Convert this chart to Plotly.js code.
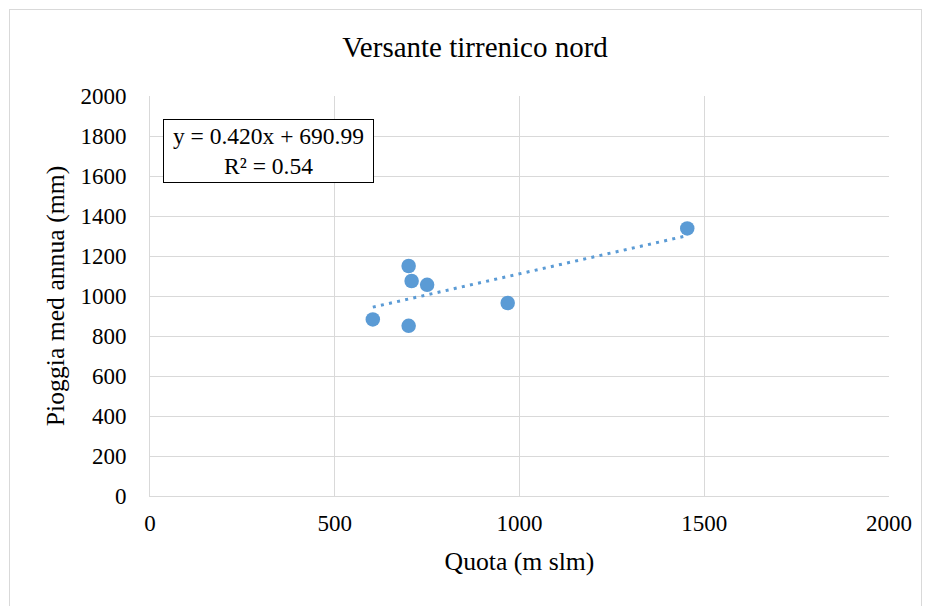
<!DOCTYPE html>
<html>
<head>
<meta charset="utf-8">
<script src="https://cdn.plot.ly/plotly-3.0.1.min.js"></script>
<style>
  html, body { margin: 0; padding: 0; background: #ffffff; }
  #wrap { position: relative; width: 929px; height: 606px; overflow: hidden; }
  #chart { position: absolute; left: 0; top: 0; width: 929px; height: 606px; }
  #chart text { font-family: 'Liberation Serif', 'Times New Roman', serif !important; }
  #frame { position: absolute; left: 9px; top: 9px; width: 911px; height: 620px;
           border: 1px solid #d9d9d9; pointer-events: none; }
</style>
</head>
<body>
<div id="wrap">
  <div id="chart"></div>
  <div id="frame"></div>
</div>
<script>
// Data
var quota = [603, 700, 708, 750, 700, 968, 1454];          // m slm
var pioggia = [883, 1150, 1075, 1056, 851, 965, 1338];     // mm
var trendSlope = 0.420;
var trendIntercept = 690.99;
var rSquared = 0.54;
var xTicks = [0, 500, 1000, 1500, 2000];
var yTicks = [0, 200, 400, 600, 800, 1000, 1200, 1400, 1600, 1800, 2000];

var xMin = Math.min.apply(null, quota);
var xMax = Math.max.apply(null, quota);
var trendX = [xMin, xMax];
var trendY = trendX.map(function (v) { return trendSlope * v + trendIntercept; });

var serif = 'Times New Roman, Liberation Serif, serif';
var blue = '#5B9BD5';

var traces = [
  {
    x: trendX, y: trendY, type: 'scatter', mode: 'lines',
    line: { color: blue, width: 3, dash: '3px,5.3px' },
    hoverinfo: 'skip', showlegend: false
  },
  {
    x: quota, y: pioggia, type: 'scatter', mode: 'markers',
    marker: { color: blue, size: 14.5, line: { width: 0 } },
    showlegend: false
  }
];

var layout = {
  width: 929, height: 606,
  margin: { l: 150, r: 40, t: 96, b: 110, pad: 0 },
  paper_bgcolor: '#ffffff', plot_bgcolor: '#ffffff',
  font: { family: serif, color: '#000000' },
  title: {
    text: 'Versante tirrenico nord',
    font: { family: serif, size: 29, color: '#000000' },
    xref: 'container', x: 475 / 929, xanchor: 'center',
    yref: 'container', y: 1 - 47 / 606, yanchor: 'middle'
  },
  xaxis: {
    range: [0, 2000], tickvals: xTicks, ticktext: xTicks.map(String),
    showgrid: true, gridcolor: '#d9d9d9', gridwidth: 1,
    zeroline: false, showline: true, linecolor: '#d9d9d9', linewidth: 1,
    ticks: '', ticklabelstandoff: 6,
    tickfont: { family: serif, size: 23, color: '#000000' },
    title: { text: 'Quota (m slm)', font: { family: serif, size: 25.7, color: '#000000' }, standoff: 17 },
    automargin: false, fixedrange: true
  },
  yaxis: {
    range: [0, 2000], tickvals: yTicks, ticktext: yTicks.map(String),
    showgrid: true, gridcolor: '#d9d9d9', gridwidth: 1,
    zeroline: false, showline: true, linecolor: '#d9d9d9', linewidth: 1,
    ticks: '', ticklabelstandoff: 18,
    tickfont: { family: serif, size: 23, color: '#000000' },
    title: { text: 'Pioggia med annua (mm)', font: { family: serif, size: 25.7, color: '#000000' }, standoff: 8 },
    automargin: false, fixedrange: true
  },
  annotations: [
    {
      xref: 'paper', yref: 'paper',
      x: (268 - 150) / 739, y: (496 - 151) / 400,
      xanchor: 'center', yanchor: 'middle',
      text: 'y = ' + trendSlope.toFixed(3) + 'x + ' + trendIntercept.toFixed(2) + '<br>R² = ' + rSquared.toFixed(2),
      showarrow: false, align: 'center',
      font: { family: serif, size: 23.5, color: '#000000' },
      bgcolor: '#ffffff', bordercolor: '#000000', borderwidth: 1, borderpad: 0,
      width: 209, height: 62
    }
  ],
  showlegend: false
};

Plotly.newPlot('chart', traces, layout, { displayModeBar: false, staticPlot: true });
</script>
</body>
</html>
